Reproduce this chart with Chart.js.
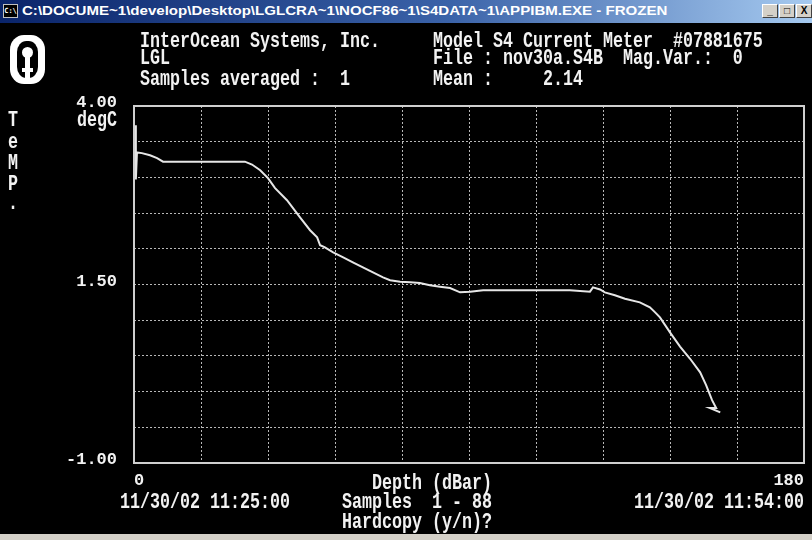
<!DOCTYPE html>
<html>
<head>
<meta charset="utf-8">
<script src="https://cdn.jsdelivr.net/npm/chart.js@4"></script>
<style>
  html, body { margin: 0; padding: 0; }
  body { width: 812px; height: 540px; background: #000; position: relative; overflow: hidden; }
  #titlebar { position: absolute; left: 0; top: 0; width: 812px; height: 23px;
    background: linear-gradient(to right, #0a246a, #3a62a8 55%, #a6caf0); }
  #titletext { position: absolute; left: 22px; top: 4px; color: #fff; font: bold 12px "Liberation Sans", sans-serif;
    white-space: nowrap; transform-origin: left center; }
  #appicon { position: absolute; left: 3px; top: 4px; width: 15px; height: 14px; background: #000; border: 1px solid #c0c0c0;
    box-sizing: border-box; color: #fff; font: bold 7px "DejaVu Sans Mono", monospace; line-height: 12px; text-align: center; }
  .btn { position: absolute; top: 4px; width: 16px; height: 14px; background: #d4d0c8; box-sizing: border-box;
    border: 1px solid; border-color: #fff #404040 #404040 #fff; color: #000; font: bold 10px "Liberation Sans", sans-serif;
    text-align: center; line-height: 12px; }
  #bottombar { position: absolute; left: 0; top: 534px; width: 812px; height: 6px; background: #d4d0c8; }
  .dos { position: absolute; color: #f2f2f2; font: bold 16.67px "Liberation Mono", monospace; line-height: 16px; height: 16px;
    white-space: pre; transform: scaleY(1.3); transform-origin: left center; }
  .dos.r { transform-origin: right center; }
  #wrap { position: absolute; left: 0; top: 0; width: 812px; height: 540px; }
  #logo { position: absolute; left: 10px; top: 35px; width: 35px; height: 49px; background: #fff; border-radius: 40% / 30%; }
  #logo .hole { position: absolute; left: 7px; top: 6px; width: 21px; height: 37px; background: #000; border-radius: 45% / 30%; }
  #logo .head { position: absolute; left: 12px; top: 12px; width: 11px; height: 11px; background: #fff; border-radius: 50%; }
  #logo .stem { position: absolute; left: 15px; top: 21px; width: 5px; height: 22px; background: #fff; }
  #logo .foot { position: absolute; left: 12px; top: 33px; width: 11px; height: 4px; background: #fff; }
</style>
</head>
<body>
<div id="wrap"><canvas id="tempChart" width="812" height="540"></canvas></div>

<div id="titlebar">
  <div id="appicon">C:\</div>
  <div id="titletext">C:\DOCUME~1\develop\Desktop\LGLCRA~1\NOCF86~1\S4DATA~1\APPIBM.EXE - FROZEN</div>
  <div class="btn" style="left:762px">_</div>
  <div class="btn" style="left:779px">&#9633;</div>
  <div class="btn" style="left:796px">X</div>
</div>
<div id="bottombar"></div>

<div id="logo"><div class="hole"></div><div class="head"></div><div class="stem"></div><div class="foot"></div></div>

<div class="dos" style="left:140px; top:34px">InterOcean Systems, Inc.</div>
<div class="dos" style="left:140px; top:51px">LGL</div>
<div class="dos" style="left:140px; top:72px">Samples averaged :  1</div>
<div class="dos" style="left:433px; top:34px">Model S4 Current Meter  #07881675</div>
<div class="dos" style="left:433px; top:51px">File : nov30a.S4B  Mag.Var.:  0</div>
<div class="dos" style="left:433px; top:72px">Mean :     2.14</div>

<div class="dos r" style="right:695px; top:113px">degC</div>
<div class="dos" style="left:8px; top:113px">T</div>
<div class="dos" style="left:8px; top:135px">e</div>
<div class="dos" style="left:8px; top:156px">M</div>
<div class="dos" style="left:8px; top:177px">P</div>
<div class="dos" style="left:8px; top:196px">.</div>

<div class="dos" style="left:372px; top:476px">Depth (dBar)</div>
<div class="dos" style="left:120px; top:495px">11/30/02 11:25:00</div>
<div class="dos" style="left:342px; top:495px">Samples  1 - 88</div>
<div class="dos r" style="right:8px; top:495px">11/30/02 11:54:00</div>
<div class="dos" style="left:342px; top:515px">Hardcopy (y/n)?</div>

<script>
// depth (dBar) and temperature (degC)
const depth = [0.5, 0.5, 0.8, 2.1, 4.3, 6.2, 7.8, 17.7, 29.8, 31.7, 33.9, 36.0, 37.9, 41.1,
  44.6, 47.3, 49.2, 50.0, 51.3, 53.5, 56.2, 58.8, 61.5, 64.2, 66.9, 68.8, 71.5, 74.2, 76.8,
  79.5, 82.2, 84.9, 87.6, 90.3, 93.8, 103.7, 117.1, 122.5, 123.3, 125.2, 126.5, 129.2, 131.9,
  135.9, 138.6, 140.0, 141.3, 144.0, 146.7, 149.4, 152.1, 153.7, 155.3, 156.4, 154.7, 157.5];
const temp = [3.73, 2.97, 3.35, 3.34, 3.31, 3.27, 3.22, 3.22, 3.22, 3.18, 3.10, 2.99, 2.85, 2.68,
  2.44, 2.26, 2.16, 2.05, 2.02, 1.95, 1.88, 1.81, 1.74, 1.67, 1.60, 1.56, 1.54, 1.53, 1.52,
  1.49, 1.47, 1.45, 1.39, 1.40, 1.42, 1.42, 1.42, 1.40, 1.46, 1.43, 1.39, 1.35, 1.30,
  1.25, 1.18, 1.11, 1.04, 0.83, 0.63, 0.46, 0.27, 0.09, -0.12, -0.23, -0.23, -0.29];
const yLabels = [4, 1.5, -1];
const xLabels = [0, 180];

// stretch the title text to the width it has in the window
const tt = document.getElementById("titletext");
tt.style.transform = "scaleX(" + (645 / tt.scrollWidth) + ")";

const dosFont = { family: "Liberation Mono", size: 17, weight: "bold" };

const frame = {
  id: "frame",
  afterDatasetsDraw(chart) {
    const { ctx, chartArea: a } = chart;
    ctx.save();
    ctx.strokeStyle = "#cfcfcf";
    ctx.lineWidth = 2;
    ctx.strokeRect(a.left, a.top, a.right - a.left, a.bottom - a.top);
    ctx.restore();
  },
};

const ctx = document.getElementById("tempChart").getContext("2d");
new Chart(ctx, {
  type: "line",
  data: {
    datasets: [
      {
        data: depth.map((d, i) => ({ x: d, y: temp[i] })),
        borderColor: "#e6e6e6",
        borderWidth: 2,
        pointRadius: 0,
        tension: 0,
        fill: false,
      },
    ],
  },
  options: {
    responsive: false,
    animation: false,
    layout: { padding: { left: 0, top: 106, right: 8, bottom: 50 } },
    plugins: { legend: { display: false }, tooltip: { enabled: false } },
    scales: {
      x: {
        type: "linear",
        min: 0,
        max: 180,
        afterFit: (s) => { s.height = 27; },
        ticks: {
          stepSize: 18,
          autoSkip: false,
          maxRotation: 0,
          align: "inner",
          padding: 8,
          color: "#f2f2f2",
          font: dosFont,
          callback: (v) => (xLabels.includes(v) ? String(v) : ""),
        },
        grid: { color: "#b8b8b8", lineWidth: 1, drawTicks: false },
        border: { display: false, dash: [2, 2] },
      },
      y: {
        min: -1,
        max: 4,
        afterFit: (s) => { s.width = 134; },
        ticks: {
          stepSize: 0.5,
          autoSkip: false,
          padding: 17,
          labelOffset: -3,
          color: "#f2f2f2",
          font: dosFont,
          callback: (v) => (yLabels.includes(v) ? v.toFixed(2) : ""),
        },
        grid: { color: "#b8b8b8", lineWidth: 1, drawTicks: false },
        border: { display: false, dash: [2, 2] },
      },
    },
  },
  plugins: [frame],
});
</script>
</body>
</html>
